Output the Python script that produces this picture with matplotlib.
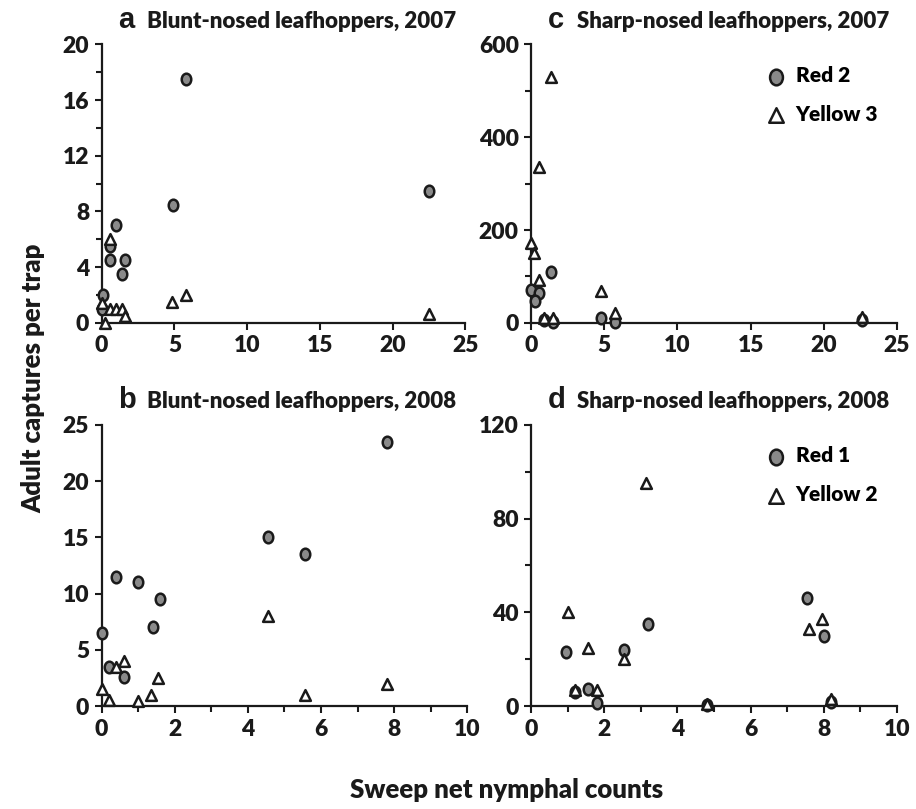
import numpy as np
import matplotlib
matplotlib.use("Agg")
from matplotlib import pyplot as plt
from matplotlib.path import Path
from matplotlib.transforms import Affine2D
from matplotlib.ticker import MultipleLocator

plt.rcParams['font.family'] = ['Lato', 'DejaVu Sans']
plt.rcParams['font.weight'] = 'heavy'

# panel a: blunt-nosed, 2007
a_red_x = [5.8, 4.9, 1.0, 0.6, 0.6, 1.6, 1.4, 0.1, 0.0, 22.5]
a_red_y = [17.5, 8.5, 7.0, 5.5, 4.5, 4.5, 3.5, 2.0, 1.0, 9.5]
a_yel_x = [0.6, 0.0, 0.25, 0.6, 1.0, 1.4, 1.6, 4.85, 5.8, 22.5]
a_yel_y = [6.0, 1.4, 0.0, 1.0, 1.0, 1.0, 0.5, 1.5, 2.0, 0.6]

# panel c: sharp-nosed, 2007
c_red_x = [1.35, 0.0, 0.55, 0.25, 4.8, 5.75, 1.5, 0.85, 22.6]
c_red_y = [110, 70, 65, 48, 11, 2, 2, 5, 5]
c_yel_x = [1.35, 0.55, 0.0, 0.2, 0.55, 0.85, 1.5, 4.8, 5.75, 22.6]
c_yel_y = [530, 335, 172, 151, 93, 11, 11, 68, 21, 12]

# panel b: blunt-nosed, 2008
b_red_x = [4.55, 0.4, 1.0, 1.6, 1.4, 0.0, 0.2, 0.6, 7.8, 5.55]
b_red_y = [15.0, 11.5, 11.0, 9.5, 7.0, 6.5, 3.5, 2.6, 23.5, 13.5]
b_yel_x = [4.55, 0.6, 0.4, 1.55, 1.35, 1.0, 0.2, 0.0, 5.55, 7.8]
b_yel_y = [8.0, 4.0, 3.5, 2.5, 1.0, 0.5, 0.6, 1.5, 1.0, 2.0]

# panel d: sharp-nosed, 2008
d_red_x = [3.2, 0.95, 2.55, 1.55, 1.8, 1.2, 7.55, 8.0, 4.8, 8.2]
d_red_y = [35, 23, 24, 7.5, 1.5, 6, 46, 30, 0.5, 2]
d_yel_x = [3.15, 1.0, 1.55, 2.55, 1.2, 1.8, 7.6, 7.95, 4.8, 8.2]
d_yel_y = [95, 40, 25, 20, 7, 7, 33, 37, 1, 3]

panels = [
    # letter, title, rect, red, yellow, xlim, xmajor, xminor, ylim, ymajor, yminor, legend
    ("a", "Blunt-nosed leafhoppers, 2007", [0.111, 0.601, 0.397, 0.344],
     (a_red_x, a_red_y), (a_yel_x, a_yel_y), 25, 5, None, 20, 4, 2, None),
    ("c", "Sharp-nosed leafhoppers, 2007", [0.580, 0.601, 0.399, 0.344],
     (c_red_x, c_red_y), (c_yel_x, c_yel_y), 25, 5, None, 600, 200, 100, ("Red 2", "Yellow 3")),
    ("b", "Blunt-nosed leafhoppers, 2008", [0.111, 0.127, 0.399, 0.348],
     (b_red_x, b_red_y), (b_yel_x, b_yel_y), 10, 2, 1, 25, 5, None, None),
    ("d", "Sharp-nosed leafhoppers, 2008", [0.580, 0.127, 0.399, 0.348],
     (d_red_x, d_red_y), (d_yel_x, d_yel_y), 10, 2, 1, 120, 40, 20, ("Red 1", "Yellow 2")),
]

# slightly tall ellipse for the circle markers
oval = Path.unit_circle().transformed(Affine2D().scale(0.82, 1.0))

fig = plt.figure(figsize=(9.16, 8.09), dpi=100)

for letter, title, rect, red, yel, xmax, xmaj, xmin_, ymax, ymaj, ymin_, leg in panels:
    ax = fig.add_axes(rect)
    ax.scatter(red[0], red[1], marker=oval, s=70, facecolor='#8a8a8a',
               edgecolor='#1a1a1a', linewidth=1.8, zorder=3, clip_on=False, label=leg[0] if leg else None)
    ax.scatter(yel[0], yel[1], marker='^', s=60, facecolor='white',
               edgecolor='#1a1a1a', linewidth=1.8, zorder=4, clip_on=False, label=leg[1] if leg else None)
    ax.set_xlim(0, xmax)
    ax.set_ylim(0, ymax)
    ax.xaxis.set_major_locator(MultipleLocator(xmaj))
    ax.yaxis.set_major_locator(MultipleLocator(ymaj))
    if xmin_:
        ax.xaxis.set_minor_locator(MultipleLocator(xmin_))
    if ymin_:
        ax.yaxis.set_minor_locator(MultipleLocator(ymin_))
    for s in ['top', 'right']:
        ax.spines[s].set_visible(False)
    for s in ['left', 'bottom']:
        ax.spines[s].set_linewidth(1.6)
        ax.spines[s].set_color('#1a1a1a')
    ax.tick_params(which='major', direction='out', length=5, width=1.5, labelsize=16.5,
                   colors='#1a1a1a', pad=4)
    ax.tick_params(which='minor', direction='out', length=4, width=1.5, colors='#1a1a1a')
    for lab in ax.get_xticklabels() + ax.get_yticklabels():
        lab.set_fontweight('heavy')
    ax.text(0.045, 1.058, letter, transform=ax.transAxes, fontsize=21, fontweight='bold',
            family='Liberation Sans', color='#1a1a1a', va='baseline')
    ax.text(0.125, 1.058, title, transform=ax.transAxes, fontsize=16, fontweight='heavy',
            color='#1a1a1a', va='baseline')
    if leg:
        ax.legend(loc='upper right', bbox_to_anchor=(1.0, 0.99), frameon=False,
                  prop={'size': 15, 'weight': 'heavy'}, handletextpad=0.45,
                  labelspacing=0.95, markerscale=1.35, handlelength=1.0)

fig.text(0.036, 0.532, "Adult captures per trap", rotation=90, ha='center', va='center',
         fontsize=18.5, fontweight='heavy', color='#1a1a1a')
fig.text(0.553, 0.013, "Sweep net nymphal counts", ha='center', va='baseline',
         fontsize=18.5, fontweight='heavy', color='#1a1a1a')

fig.savefig("out.png", dpi=100)
plt.close(fig)
